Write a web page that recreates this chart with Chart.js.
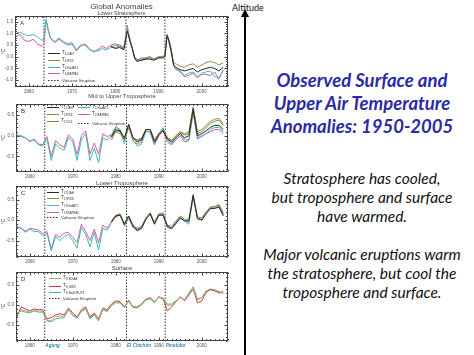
<!DOCTYPE html>
<html><head><meta charset="utf-8">
<script src="https://cdn.jsdelivr.net/npm/chart.js@4.4.1/dist/chart.umd.min.js"></script>
<style>
html,body{margin:0;padding:0;background:#fff;width:474px;height:355px;overflow:hidden;position:relative}
canvas{position:absolute;left:0}
#alt{position:absolute;left:232px;top:2px;font:9px Lato, sans-serif;color:#111;white-space:nowrap}
#shaft{position:absolute;left:244px;top:15px;width:2px;height:345px;background:#000}
#head{position:absolute;left:241px;top:9px;width:0;height:0;border-left:4px solid transparent;border-right:4px solid transparent;border-bottom:8px solid #000}
#title{position:absolute;left:250px;width:224px;top:68.5px;text-align:center;font:italic bold 18.5px Lato, sans-serif;color:#2b2ba3;line-height:23px;white-space:nowrap}
#body{position:absolute;left:250px;width:224px;top:168.5px;text-align:center;font:italic 15.5px Lato, sans-serif;color:#111;line-height:19px;white-space:nowrap}
</style></head><body>
<canvas id="cA" width="232" height="96" style="top:0px"></canvas>
<canvas id="cB" width="232" height="90" style="top:90px"></canvas>
<canvas id="cC" width="232" height="88" style="top:176px"></canvas>
<canvas id="cD" width="232" height="93" style="top:262px"></canvas>
<div id="alt">Altitude</div>
<div id="head"></div><div id="shaft"></div>
<div id="title">Observed Surface and<br>Upper Air Temperature<br>Anomalies: 1950-2005</div>
<div id="body">Stratosphere has cooled,<br>but troposphere and surface<br>have warmed.<br><br>Major volcanic eruptions warm<br>the stratosphere, but cool the<br>troposphere and surface.</div>
<script>
// ---------- data ----------
const xTicks = [1960, 1970, 1980, 1990, 2000];
const volcanoYears = [1963.5, 1982.5, 1991.5];
const volcanoNames = ['Agung', 'El Chichón', 'Pinatubo'];

// Panel A (lower stratosphere), irregular sampling around eruptions
const yearsA = [1957,1958,1959,1960,1961,1962,1963,1963.5,1964,1964.5,
  1965,1966,1967,1968,1969,1970,1971,1972,1973,1974,1975,1976,1977,1978,1979,1980,1981,1982,
  1982.8,1983,1983.5,1984,1984.5,
  1985,1986,1987,1988,1989,1990,1991,
  1991.5,1992,1992.5,1993,1993.5,
  1994,1995,1996,1997,1998,1999,2000,2001,2002,2003,2004,2005];
const a_HadAT2 = [1.0,1.05,0.95,0.9,0.95,0.85,0.7,0.75,1.6,1.15,
  0.8,0.65,0.8,0.65,0.55,0.6,0.3,0.5,0.5,0.3,0.25,0.25,0.35,0.3,0.4,0.5,0.45,0.35,
  1.2,1.0,0.6,0.3,-0.1,
  -0.15,-0.1,-0.05,0.0,-0.1,0.0,0.0,
  0.05,0.9,0.6,0.2,-0.3,
  -0.5,-0.65,-0.8,-0.7,-0.65,-0.85,-0.7,-0.65,-0.6,-0.85,-0.9,-0.6];
const a_RATPAC = [0.85,0.95,0.7,0.65,0.75,0.55,0.45,0.55,1.55,1.1,
  0.8,0.6,0.75,0.6,0.5,0.55,0.25,0.45,0.55,0.35,0.2,0.3,0.45,0.35,0.5,0.55,0.5,0.4,
  1.35,1.1,0.7,0.35,-0.05,
  -0.1,-0.15,-0.1,-0.05,-0.1,-0.05,0.0,
  0.1,0.95,0.55,0.15,-0.35,
  -0.55,-0.6,-0.85,-0.8,-0.7,-0.9,-0.75,-0.75,-0.8,-0.65,-0.95,-0.55];
// satellite series start in 1979
const a_UAH = [0.45,0.35,0.4,0.3,
  1.1,0.95,0.6,0.3,-0.05,
  -0.2,-0.15,-0.1,-0.1,-0.15,-0.05,-0.05,
  0.0,0.9,0.65,0.2,-0.35,
  -0.45,-0.55,-0.6,-0.55,-0.5,-0.65,-0.55,-0.5,-0.45,-0.5,-0.6,-0.45];
const a_RSS = [0.4,0.4,0.45,0.35,
  1.15,1.0,0.65,0.35,0.0,
  -0.15,-0.05,-0.05,0.0,-0.1,0.0,0.0,
  0.05,0.95,0.7,0.3,-0.25,
  -0.3,-0.4,-0.45,-0.35,-0.3,-0.45,-0.35,-0.25,-0.2,-0.25,-0.35,-0.25];

// Panels B-D, annual
const yearsAnn = [1957,1958,1959,1960,1961,1962,1963,1964,1965,1966,
  1967,1968,1969,1970,1971,1972,1973,1974,1975,1976,
  1977,1978,1979,1980,1981,1982,1983,1984,1985,1986,
  1987,1988,1989,1990,1991,1992,1993,1994,1995,1996,
  1997,1998,1999,2000,2001,2002,2003,2004,2005];

const b_HadAT2 = [0.02,0.0,-0.05,-0.12,-0.1,-0.22,-0.25,-0.08,-0.6,-0.2,
  -0.3,-0.35,-0.05,-0.15,-0.6,-0.1,0.05,-0.6,-0.3,-0.65,
  -0.05,-0.1,0.0,0.2,0.15,-0.2,0.25,-0.1,-0.25,-0.2,
  0.1,0.1,-0.2,0.05,0.2,-0.1,-0.2,-0.05,0.05,-0.1,
  -0.1,0.6,-0.05,0.0,0.05,0.15,0.2,0.2,0.1];
const b_RATPAC = [0.0,-0.02,-0.05,-0.15,-0.08,-0.2,-0.22,-0.02,-0.5,-0.12,
  -0.22,-0.28,0.02,-0.08,-0.45,0.0,0.12,-0.45,-0.18,-0.45,
  0.05,-0.02,0.02,0.22,0.15,-0.12,0.22,-0.12,-0.2,-0.15,
  0.12,0.08,-0.22,0.0,0.12,-0.15,-0.22,-0.1,0.0,-0.15,
  -0.12,0.55,-0.08,-0.02,0.05,0.1,0.15,0.15,0.05];
const b_UAH = [-0.02,0.15,0.12,-0.05,0.28,-0.05,-0.15,-0.1,0.15,0.15,
  -0.15,0.02,0.12,-0.08,-0.15,-0.05,0.05,-0.05,0.0,0.65,
  0.0,0.05,0.12,0.2,0.25,0.25,0.15];
const b_RSS = [-0.1,0.1,0.05,-0.1,0.2,-0.05,-0.1,-0.05,0.15,0.15,
  -0.1,0.05,0.15,-0.05,-0.1,0.0,0.1,0.05,0.1,0.7,
  0.1,0.15,0.25,0.35,0.4,0.42,0.3];
const b_VG2 = [-0.05,0.12,0.1,-0.08,0.25,-0.05,-0.12,-0.08,0.15,0.15,
  -0.12,0.05,0.15,-0.05,-0.12,0.0,0.08,0.02,0.05,0.68,
  0.05,0.1,0.2,0.3,0.35,0.38,0.25];

const c_HadAT2 = [-0.15,-0.2,-0.3,-0.22,-0.28,-0.28,-0.38,-0.32,-0.75,-0.4,
  -0.5,-0.4,-0.35,-0.5,-0.68,-0.18,-0.35,-0.65,-0.3,-0.73,
  -0.2,-0.25,-0.05,0.1,0.15,-0.15,0.05,-0.18,-0.27,-0.2,
  0.02,0.18,-0.08,0.15,0.18,-0.15,-0.2,-0.05,0.08,-0.02,
  -0.1,0.58,0.05,0.0,0.18,0.28,0.3,0.33,0.12];
const c_RATPAC = [-0.18,-0.2,-0.27,-0.2,-0.22,-0.24,-0.33,-0.28,-0.7,-0.35,
  -0.42,-0.32,-0.3,-0.42,-0.55,-0.1,-0.28,-0.5,-0.22,-0.55,
  -0.12,-0.2,-0.05,0.08,0.12,-0.12,0.05,-0.15,-0.22,-0.18,
  0.05,0.15,-0.1,0.12,0.12,-0.18,-0.22,-0.08,0.05,-0.02,
  -0.05,0.58,0.05,0.02,0.2,0.3,0.32,0.36,0.15];
const c_UAH = [-0.05,0.1,0.12,-0.1,0.1,-0.15,-0.25,-0.2,0.02,0.15,
  -0.1,0.12,0.12,-0.15,-0.2,-0.08,0.05,-0.02,-0.02,0.6,
  0.03,0.0,0.15,0.28,0.28,0.32,0.1];
const c_RSS = [-0.02,0.12,0.15,-0.08,0.1,-0.12,-0.2,-0.15,0.05,0.18,
  -0.05,0.15,0.15,-0.12,-0.15,-0.02,0.1,0.02,0.02,0.63,
  0.08,0.05,0.2,0.32,0.33,0.38,0.18];

const d_NOAA = [-0.25,-0.12,-0.15,-0.18,-0.14,-0.15,-0.16,-0.38,-0.4,-0.3,
  -0.28,-0.3,-0.1,-0.25,-0.32,-0.15,-0.08,-0.33,-0.22,-0.38,
  -0.1,-0.15,0.0,0.08,0.05,-0.05,0.1,-0.04,-0.05,0.02,
  0.15,0.15,0.08,0.2,0.17,-0.02,0.0,0.1,0.2,0.12,
  0.28,0.42,0.12,0.18,0.35,0.4,0.38,0.33,0.3];
const d_GISS = [-0.3,-0.05,-0.1,-0.15,-0.1,-0.12,-0.12,-0.35,-0.32,-0.25,
  -0.22,-0.25,-0.08,-0.2,-0.3,-0.12,-0.05,-0.3,-0.2,-0.35,
  -0.08,-0.12,0.02,0.1,0.08,-0.05,0.12,-0.05,-0.05,0.02,
  0.15,0.18,0.08,0.2,0.15,-0.15,-0.05,0.08,0.2,0.1,
  0.25,0.4,0.05,0.1,0.32,0.38,0.35,0.3,0.33];
const d_HadCRUT3 = [-0.2,-0.15,-0.18,-0.2,-0.15,-0.18,-0.18,-0.4,-0.42,-0.35,
  -0.33,-0.32,-0.12,-0.27,-0.33,-0.17,-0.1,-0.35,-0.25,-0.4,
  -0.12,-0.17,-0.02,0.05,0.05,-0.07,0.1,-0.06,-0.08,0.0,
  0.12,0.15,0.05,0.2,0.15,0.02,0.02,0.1,0.2,0.12,
  0.3,0.45,0.15,0.18,0.33,0.38,0.37,0.33,0.28];

// ---------- styling ----------
const COL = {uah:'#262626', rss:'#938d48', vg2:'#6f8a32', had:'#3bbcb2', rat:'#d45ba6', noaa:'#b3ad6a', giss:'#d2323f'};
const FONT = 'Liberation Sans, Arial, sans-serif';
const X_MIN = 1956.8, X_MAX = 2006.1;

function fromYear(years, vals){ const off = years.length - vals.length; return vals.map((v,i)=>({x:years[i+off], y:v})); }

const panels = [
 { canvas:'cA', letter:'A', padTop:16, xAxisH:9, left:15, padRight:4, yMin:-1.29, yMax:1.74, yTicks:[-1,-0.5,0,0.5,1,1.5],
   titles:[{t:'Global Anomalies', y:6.5, s:8},{t:'Lower Stratosphere', y:13, s:5.5}],
   series:[{d:fromYear(yearsA,a_UAH),c:COL.uah,sub:'4,UAH'},{d:fromYear(yearsA,a_RSS),c:COL.rss,sub:'4,RSS'},
           {d:fromYear(yearsA,a_HadAT2),c:COL.had,sub:'4,HadAT2'},{d:fromYear(yearsA,a_RATPAC),c:COL.rat,sub:'4,RATPAC'}],
   legend:{cols:[{dx:33, rows:[37.3,44,50.7,56.7,64], items:[0,1,2,3,'v']}]} },
 { canvas:'cB', letter:'B', padTop:14, xAxisH:8, left:16, padRight:4, yMin:-0.88, yMax:0.77, yTicks:[-0.5,0,0.5],
   titles:[{t:'Mid to Upper Troposphere', y:6.7, s:5.8}],
   series:[{d:fromYear(yearsAnn,b_UAH),c:COL.uah,sub:'2,UAH'},{d:fromYear(yearsAnn,b_RSS),c:COL.rss,sub:'2,RSS'},
           {d:fromYear(yearsAnn,b_VG2),c:COL.vg2,sub:'2,VG2'},{d:fromYear(yearsAnn,b_HadAT2),c:COL.had,sub:'2,HadAT2'},
           {d:fromYear(yearsAnn,b_RATPAC),c:COL.rat,sub:'2,RATPAC'}],
   legend:{cols:[{dx:31, rows:[2.9,9.5,16.5], items:[0,1,2]},{dx:62, rows:[2.9,9.5,18.5], items:[3,4,'v']}]} },
 { canvas:'cC', letter:'C', padTop:10, xAxisH:7, left:16, padRight:4, yMin:-0.9, yMax:0.83, yTicks:[-0.5,0,0.5],
   titles:[{t:'Lower Troposphere', y:7, s:6}],
   series:[{d:fromYear(yearsAnn,c_UAH),c:COL.uah,sub:'LT,UAH'},{d:fromYear(yearsAnn,c_RSS),c:COL.rss,sub:'LT,RSS'},
           {d:fromYear(yearsAnn,c_HadAT2),c:COL.had,sub:'LT,HadAT2'},{d:fromYear(yearsAnn,c_RATPAC),c:COL.rat,sub:'LT,RATPAC'}],
   legend:{cols:[{dx:31, rows:[5.7,12.3,19,25.7,31.3], items:[0,1,2,3,'v']}]} },
 { canvas:'cD', letter:'D', padTop:10, xAxisH:14, left:16, padRight:4, yMin:-0.9, yMax:0.82, yTicks:[-0.5,0,0.5],
   titles:[{t:'Surface', y:6, s:6}], volcLabels:true,
   series:[{d:fromYear(yearsAnn,d_NOAA),c:COL.noaa,sub:'S,NOAA'},{d:fromYear(yearsAnn,d_GISS),c:COL.giss,sub:'S,GISS'},
           {d:fromYear(yearsAnn,d_HadCRUT3),c:COL.had,sub:'S,HadCRUT3'}],
   legend:{cols:[{dx:33, rows:[6.3,13.7,19.7,26.3], items:[0,1,2,'v']}]} }
];

function makeDecor(p){
  return { id:'decor', afterDraw(chart){
    const ctx = chart.ctx, a = chart.chartArea, xs = chart.scales.x, ys = chart.scales.y;
    ctx.save();
    ctx.strokeStyle = '#444'; ctx.lineWidth = 1; ctx.setLineDash([]);
    const L = Math.round(a.left)+0.5, R = Math.round(a.right)-0.5, T = Math.round(a.top)+0.5, B = Math.round(a.bottom)-0.5;
    ctx.strokeRect(L, T, R-L, B-T);
    ctx.beginPath();
    for (let yr = 1957; yr <= 2006; yr++) {
      const x = Math.round(xs.getPixelForValue(yr)) + 0.5, len = yr % 10 === 0 ? 3 : 1.5;
      ctx.moveTo(x, B); ctx.lineTo(x, B-len); ctx.moveTo(x, T); ctx.lineTo(x, T+len);
    }
    for (let k = Math.ceil(ys.min*10); k <= Math.floor(ys.max*10); k++) {
      const y = Math.round(ys.getPixelForValue(k/10)) + 0.5, len = k % 5 === 0 ? 3 : 1.5;
      ctx.moveTo(L, y); ctx.lineTo(L+len, y); ctx.moveTo(R, y); ctx.lineTo(R-len, y);
    }
    ctx.stroke();
    // titles
    ctx.fillStyle = '#444'; ctx.textAlign = 'center'; ctx.textBaseline = 'middle';
    const cx = (a.left + a.right) / 2;
    p.titles.forEach(t => { ctx.font = t.s + 'px ' + FONT; ctx.fillText(t.t, cx, t.y); });
    // panel letter
    ctx.fillStyle = '#333'; ctx.font = '6px ' + FONT; ctx.textAlign = 'left';
    ctx.fillText(p.letter, a.left + 5, a.top + 7);
    // axis unit
    ctx.save(); ctx.translate(4, (a.top + a.bottom) / 2); ctx.rotate(-Math.PI/2);
    ctx.textAlign = 'center'; ctx.font = '5px ' + FONT; ctx.fillText('°C', 0, 0); ctx.restore();
    // legend
    p.legend.cols.forEach(col => {
      col.items.forEach((it, i) => {
        const y = Math.round(a.top + col.rows[i]) + 0.5, x0 = a.left + col.dx;
        ctx.beginPath();
        if (it === 'v') { ctx.strokeStyle = '#333'; ctx.setLineDash([1.5,1.5]); }
        else { ctx.strokeStyle = p.series[it].c; ctx.setLineDash([]); }
        ctx.moveTo(x0, y); ctx.lineTo(x0 + 12, y); ctx.stroke(); ctx.setLineDash([]);
        ctx.fillStyle = '#333'; ctx.textAlign = 'left'; ctx.textBaseline = 'middle';
        if (it === 'v') { ctx.font = '4.3px ' + FONT; ctx.fillText('Volcanic Eruption', x0 + 14, y); }
        else {
          ctx.font = '4.6px ' + FONT; ctx.fillText('T', x0 + 14, y - 0.8);
          const w = ctx.measureText('T').width;
          ctx.font = '3px ' + FONT; ctx.fillText(p.series[it].sub, x0 + 14 + w, y + 1);
        }
      });
    });
    // volcano names
    if (p.volcLabels) {
      ctx.fillStyle = '#2f86b3'; ctx.font = 'italic bold 4.6px ' + FONT; ctx.textAlign = 'left'; ctx.textBaseline = 'middle';
      volcanoYears.forEach((v, i) => ctx.fillText(volcanoNames[i], xs.getPixelForValue(v) + 0.5, a.bottom + 5));
    }
    ctx.restore();
  }};
}

panels.forEach(p => {
  const datasets = p.series.map(s => ({ data: s.d, borderColor: s.c, borderWidth: 1, pointRadius: 0, tension: 0, fill: false }));
  volcanoYears.forEach(v => datasets.push({ data: [{x:v, y:p.yMin}, {x:v, y:p.yMax}], borderColor: '#333', borderWidth: 1, borderDash: [1.5,1.5], pointRadius: 0 }));
  new Chart(document.getElementById(p.canvas), {
    type: 'line',
    data: { datasets },
    options: {
      responsive: false, animation: false, devicePixelRatio: 1,
      layout: { padding: { top: p.padTop, right: p.padRight, left: 0, bottom: 0 } },
      plugins: { legend: { display: false }, tooltip: { enabled: false } },
      scales: {
        x: { type: 'linear', min: X_MIN, max: X_MAX,
             afterBuildTicks: ax => { ax.ticks = xTicks.map(v => ({ value: v })); },
             afterFit: s => { s.height = p.xAxisH; },
             grid: { display: false, drawTicks: false }, border: { display: false },
             ticks: { color: '#555', font: { size: 4.6, family: FONT }, padding: 1.5, autoSkip: false, maxRotation: 0, callback: v => String(v) } },
        y: { type: 'linear', min: p.yMin, max: p.yMax,
             afterBuildTicks: ax => { ax.ticks = p.yTicks.map(v => ({ value: v })); },
             afterFit: s => { s.width = p.left; },
             grid: { display: false, drawTicks: false }, border: { display: false },
             ticks: { color: '#555', font: { size: 4.6, family: FONT }, padding: 2, autoSkip: false, callback: v => v.toFixed(1) } }
      }
    },
    plugins: [makeDecor(p)]
  });
});
</script>
</body></html>
